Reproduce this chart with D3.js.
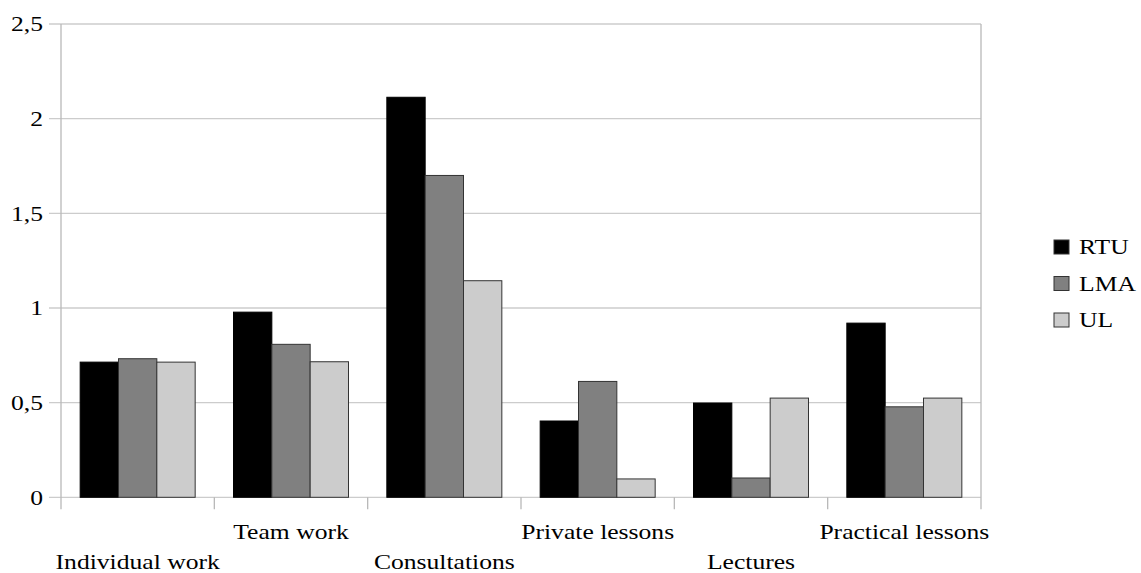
<!DOCTYPE html>
<html>
<head>
<meta charset="utf-8">
<script src="https://cdn.jsdelivr.net/npm/d3@7/dist/d3.min.js"></script>
<style>
  body { margin: 0; background: #fff; }
</style>
</head>
<body>
<svg id="chart" width="1141" height="573"></svg>
<script>
// Teaching forms compared across three universities
const categories = ["Individual work", "Team work", "Consultations", "Private lessons", "Lectures", "Practical lessons"];
const seriesNames = ["RTU", "LMA", "UL"];
const rtu = [0.714, 0.978, 2.113, 0.403, 0.498, 0.920];
const lma = [0.732, 0.808, 1.700, 0.612, 0.102, 0.478];
const ul  = [0.714, 0.716, 1.144, 0.097, 0.524, 0.524];
const yTicks = [0, 0.5, 1, 1.5, 2, 2.5];
const yTickLabels = ["0", "0,5", "1", "1,5", "2", "2,5"];
const colors = ["#000000", "#808080", "#cccccc"];

const series = [rtu, lma, ul];
const svg = d3.select("#chart");
const FONT = "Liberation Serif";
const plotLeft = 61, plotRight = 981, plotTop = 24, plotBottom = 497.3;
const fontSize = 21, stretch = 1.22;

const x = d3.scaleBand().domain(categories).range([plotLeft, plotRight]).paddingInner(0.25).paddingOuter(0.125);
const xCat = d3.scaleBand().domain(categories).range([plotLeft, plotRight]);
const xSeries = d3.scaleBand().domain(seriesNames).range([0, x.bandwidth()]);
const y = d3.scaleLinear().domain([0, 2.5]).range([plotBottom, plotTop]);

// horizontal gridlines with short outside ticks
svg.append("g").selectAll("line").data(yTicks).join("line")
  .attr("x1", plotLeft - 12).attr("x2", plotRight)
  .attr("y1", d => y(d)).attr("y2", d => y(d))
  .attr("stroke", "#cccccc").attr("stroke-width", 1.3);

// y-axis labels
const yAxis = d3.axisLeft(y).tickValues(yTicks).tickFormat((d, i) => yTickLabels[i]).tickSize(0).tickPadding(0);
const yg = svg.append("g").attr("transform", `translate(${plotLeft - 18},0)`).call(yAxis);
yg.select(".domain").remove();
yg.attr("font-size", fontSize).style("font-family", FONT);
yg.selectAll(".tick text")
  .attr("x", 0).attr("dy", "0.32em")
  .attr("transform", `scale(${stretch},1)`)
  .attr("fill", "#000");

// plot frame: left axis and right edge
svg.append("line").attr("x1", plotLeft).attr("x2", plotLeft).attr("y1", plotTop).attr("y2", plotBottom + 12)
  .attr("stroke", "#b8b8b8").attr("stroke-width", 1.3);
svg.append("line").attr("x1", plotRight).attr("x2", plotRight).attr("y1", plotTop).attr("y2", plotBottom + 12)
  .attr("stroke", "#b8b8b8").attr("stroke-width", 1.3);

// category boundary ticks
svg.append("g").selectAll("line").data(categories.slice(1)).join("line")
  .attr("x1", d => xCat(d)).attr("x2", d => xCat(d))
  .attr("y1", plotBottom).attr("y2", plotBottom + 12)
  .attr("stroke", "#b8b8b8").attr("stroke-width", 1.3);

// bars
const groups = svg.append("g").selectAll("g").data(categories).join("g")
  .attr("transform", d => `translate(${x(d)},0)`);
groups.selectAll("rect")
  .data((c, ci) => seriesNames.map((s, si) => ({ s, si, v: series[si][ci] })))
  .join("rect")
  .attr("x", d => xSeries(d.s))
  .attr("width", xSeries.bandwidth())
  .attr("y", d => y(d.v))
  .attr("height", d => plotBottom - y(d.v))
  .attr("fill", d => colors[d.si])
  .attr("stroke", d => d.si === 0 ? "#000" : "#333")
  .attr("stroke-width", 1);

// category labels, staggered on two rows
svg.append("g").attr("font-size", fontSize).style("font-family", FONT)
  .selectAll("text").data(categories).join("text")
  .attr("transform", (d, i) => `translate(${xCat(d) + xCat.bandwidth() / 2},${i % 2 === 0 ? 569 : 539}) scale(${stretch},1)`)
  .attr("text-anchor", "middle")
  .text(d => d);

// legend
const legend = svg.append("g").attr("transform", "translate(1054,0)")
  .attr("font-size", fontSize).style("font-family", FONT);
const rows = legend.selectAll("g").data(seriesNames).join("g")
  .attr("transform", (d, i) => `translate(0,${247 + i * 36.5})`);
rows.append("rect")
  .attr("x", 0).attr("y", -7).attr("width", 15).attr("height", 14)
  .attr("fill", (d, i) => colors[i]).attr("stroke", "#333").attr("stroke-width", 1);
rows.append("text")
  .attr("transform", `translate(25,0) scale(${stretch},1)`)
  .attr("dy", "0.35em")
  .text(d => d);
</script>
</body>
</html>
